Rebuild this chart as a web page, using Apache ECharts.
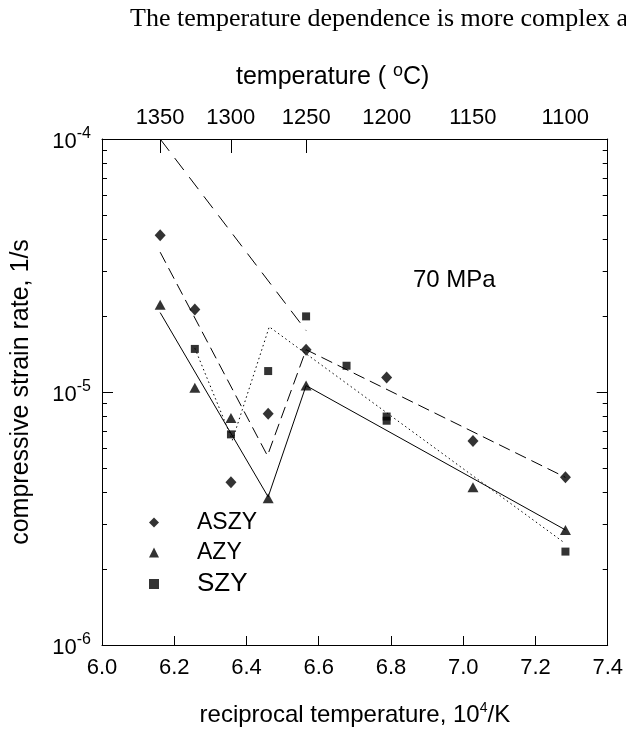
<!DOCTYPE html>
<html>
<head>
<meta charset="utf-8">
<script src="https://cdn.jsdelivr.net/npm/echarts@6/dist/echarts.min.js"></script>
<style>
  html, body { margin: 0; padding: 0; background: #fff; }
  #main { width: 626px; height: 732px; }
</style>
</head>
<body>
<div id="main"></div>
<script>
// measured points (x = 10^4/K, y = strain rate 1/s)
var aszyX = [6.161, 6.257, 6.357, 6.460, 6.565, 6.788, 7.027, 7.283];
var aszyY = [4.16e-5, 2.12e-5, 4.4e-6, 8.2e-6, 1.47e-5, 1.14e-5, 6.4e-6, 4.6e-6];
var azyX = [6.161, 6.257, 6.357, 6.460, 6.565, 7.027, 7.283];
var azyY = [2.21e-5, 1.04e-5, 7.9e-6, 3.8e-6, 1.06e-5, 4.2e-6, 2.85e-6];
var szyX = [6.257, 6.357, 6.460, 6.565, 6.677, 6.788, 6.788, 7.283];
var szyY = [1.48e-5, 6.8e-6, 1.21e-5, 1.99e-5, 1.27e-5, 8.0e-6, 7.7e-6, 2.34e-6];

// fitted lines
var fitAszyX = [6.161, 6.458, 6.565, 7.283];
var fitAszyY = [3.57e-5, 5.6e-6, 1.47e-5, 4.6e-6];
var fitAzyX = [6.161, 6.460, 6.565, 7.283];
var fitAzyY = [2.06e-5, 3.85e-6, 1.06e-5, 2.85e-6];
var fitSzyX = [6.257, 6.361, 6.463, 7.276];
var fitSzyY = [1.49e-5, 6.45e-6, 1.81e-5, 2.56e-6];
var upperX = [6.161, 6.565];
var upperY = [1.0e-4, 1.75e-5];

// axes
var xTicks = [6.0, 6.2, 6.4, 6.6, 6.8, 7.0, 7.2, 7.4];
var tempTicks = [1350, 1300, 1250, 1200, 1150, 1100];
var tempTicksMarked = [1350, 1300, 1250];
var yMajor = [1e-6, 1e-5, 1e-4];
var yMinor = [2e-6, 3e-6, 4e-6, 5e-6, 6e-6, 7e-6, 8e-6, 9e-6,
              2e-5, 3e-5, 4e-5, 5e-5, 6e-5, 7e-5, 8e-5, 9e-5];

function zip(xs, ys) {
  return xs.map(function (x, i) { return [x, ys[i]]; });
}
function toInv(t) { return 1e4 / (t + 273.15); }

var FONT = 'Liberation Sans';
var black = '#000';

function yAxisDef(pos, minor) {
  return {
    type: 'log', logBase: 10, min: 1e-6, max: 1e-4, position: pos,
    axisLine: { show: !minor, lineStyle: { color: black, width: 1 } },
    splitLine: { show: false },
    minorTick: { show: false },
    axisTick: {
      show: true, inside: true, length: minor ? 5 : 11,
      lineStyle: { color: black, width: 1 },
      customValues: minor ? yMinor : [1e-5]
    },
    axisLabel: {
      show: !minor && pos === 'left',
      customValues: yMajor,
      margin: 11,
      formatter: function (v) {
        return '{b|10}{s|' + Math.round(Math.log10(v)) + '}';
      },
      rich: {
        b: { fontSize: 22, fontFamily: FONT, color: black, padding: [5, 0, 0, 0] },
        s: { fontSize: 16, fontFamily: FONT, color: black, padding: [0, 0, 10, 0] }
      }
    },
    name: (!minor && pos === 'left') ? 'compressive strain rate, 1/s' : '',
    nameLocation: 'middle',
    nameGap: 68,
    nameTextStyle: { fontSize: 25, fontFamily: FONT, color: black }
  };
}

var myChart = echarts.init(document.getElementById('main'));
myChart.setOption({
  animation: false,
  backgroundColor: '#fff',
  grid: { left: 102, right: 16, top: 139, bottom: 87, containLabel: false },
  graphic: [
    {
      type: 'text', left: 130, top: 6,
      style: { text: 'The temperature dependence is more complex a', fontSize: 26,
               fontFamily: 'Liberation Serif', fill: black }
    },
    {
      type: 'text', left: 236, top: 62,
      style: {
        text: '{a|temperature ( }{s|o}{a|C)}',
        rich: {
          a: { fontSize: 25, fontFamily: FONT, color: black },
          s: { fontSize: 18, fontFamily: FONT, color: black, padding: [0, 0, 12, 0] }
        }
      }
    },
    {
      type: 'text', left: 413, top: 268,
      style: { text: '70 MPa', fontSize: 24, fontFamily: FONT, fill: black }
    }
  ],
  legend: {
    orient: 'vertical', left: 144, top: 506,
    itemWidth: 10, itemHeight: 10, itemGap: 7,
    textStyle: { fontSize: 23, fontFamily: FONT, color: black, padding: [0, 0, 0, 33] },
    data: [
      { name: 'ASZY', icon: 'diamond' },
      { name: 'AZY', icon: 'triangle' },
      { name: 'SZY', icon: 'rect', textStyle: { fontSize: 26 } }
    ]
  },
  xAxis: [
    {
      type: 'value', min: 6.0, max: 7.4, interval: 0.2, position: 'bottom',
      axisLine: { show: true, onZero: false, lineStyle: { color: black, width: 1 } },
      splitLine: { show: false },
      axisTick: { show: true, inside: true, length: 9, lineStyle: { color: black } },
      axisLabel: {
        fontSize: 22, fontFamily: FONT, color: black, margin: 12,
        customValues: xTicks,
        formatter: function (v) { return v.toFixed(1); }
      },
      name: '{a|reciprocal temperature, 10}{s|4}{a|/K}',
      nameLocation: 'middle', nameGap: 56,
      nameTextStyle: {
        rich: {
          a: { fontSize: 24, fontFamily: FONT, color: black },
          s: { fontSize: 14, fontFamily: FONT, color: black, padding: [0, 0, 14, 0] }
        }
      }
    },
    {
      type: 'value', min: 6.0, max: 7.4, position: 'top',
      axisLine: { show: true, onZero: false, lineStyle: { color: black, width: 1 } },
      splitLine: { show: false },
      axisTick: {
        show: true, inside: true, length: 14, lineStyle: { color: black },
        customValues: tempTicksMarked.map(toInv)
      },
      axisLabel: {
        fontSize: 22, fontFamily: FONT, color: black, margin: 10,
        customValues: tempTicks.map(toInv),
        formatter: function (v) { return String(Math.round(1e4 / v - 273.15)); }
      }
    }
  ],
  yAxis: [
    yAxisDef('left', false),
    yAxisDef('left', true),
    yAxisDef('right', false),
    yAxisDef('right', true)
  ],
  series: [
    {
      name: 'upper', type: 'line', symbol: 'none', silent: true,
      data: zip(upperX, upperY),
      lineStyle: { color: black, width: 1, type: [15, 9] }
    },
    {
      name: 'ASZY fit', type: 'line', symbol: 'none', silent: true,
      data: zip(fitAszyX, fitAszyY),
      lineStyle: { color: black, width: 1, type: [12, 6] }
    },
    {
      name: 'AZY fit', type: 'line', symbol: 'none', silent: true,
      data: zip(fitAzyX, fitAzyY),
      lineStyle: { color: black, width: 1, type: 'solid' }
    },
    {
      name: 'SZY fit', type: 'line', symbol: 'none', silent: true,
      data: zip(fitSzyX, fitSzyY),
      lineStyle: { color: black, width: 1, type: [1.5, 3] }
    },
    {
      name: 'ASZY', type: 'scatter', symbol: 'diamond', symbolSize: [11, 12],
      itemStyle: { color: black }, data: zip(aszyX, aszyY), z: 5
    },
    {
      name: 'AZY', type: 'scatter', symbol: 'triangle', symbolSize: [11, 10],
      itemStyle: { color: black }, data: zip(azyX, azyY), z: 5
    },
    {
      name: 'SZY', type: 'scatter', symbol: 'rect', symbolSize: 8,
      itemStyle: { color: black }, data: zip(szyX, szyY), z: 5
    }
  ]
});
</script>
</body>
</html>
